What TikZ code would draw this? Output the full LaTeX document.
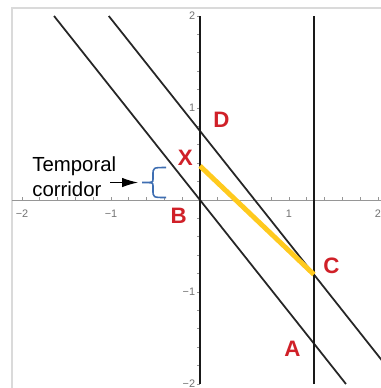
\documentclass[tikz,border=0pt]{standalone}
\usepackage{fontspec}
\setmainfont{Liberation Sans}
\usepackage{tikz}
\usetikzlibrary{arrows.meta, positioning, calc}
\definecolor{lblred}{RGB}{208,32,40}
\definecolor{corridoryellow}{RGB}{255,202,30}
\definecolor{braceblue}{RGB}{62,110,178}
\definecolor{axisgray}{RGB}{150,150,150}
\definecolor{framegray}{RGB}{218,218,218}

\begin{document}
\begin{tikzpicture}[>=Stealth, x=1.78cm, y=1.84cm,
    lbl/.style={text=lblred, font=\fontsize{12.7}{14}\selectfont\bfseries, inner sep=0pt},
    worldline/.style={draw=black!85, line width=1pt},
    wall/.style={draw=black!90, line width=1.5pt},
    ticklbl/.style={text=black!55, font=\fontsize{6.2}{7}\selectfont, inner sep=0pt}]

  \clip (-4cm,-3.76cm) rectangle (3.62cm,4cm);
  \fill[white] (-4cm,-3.76cm) rectangle (3.62cm,4cm);
  \draw[framegray, line width=0.6pt] (-3.76cm,-5cm) rectangle (5cm,3.84cm);

  \draw[axisgray, line width=0.5pt] (-3.76cm,0) -- (3.62cm,0);
  \foreach \i in {-10,...,10}
    \draw[axisgray, line width=0.4pt] (\i/5,0) -- ++(0,0.06cm);
  \foreach \i in {-10,...,10}
    \draw[axisgray, line width=0.4pt] (0,\i/5) -- ++(-0.06cm,0);
  \foreach \v/\s in {-2/−2, -1/−1, 1/1, 2/2}
    \node[ticklbl, anchor=north, yshift=-0.19cm] at (\v,0) {\s};
  \foreach \v/\s in {-2/−2, -1/−1, 1/1, 2/2}
    \node[ticklbl, anchor=east, xshift=-0.09cm] at (0,\v) {\s};

  \coordinate (b) at (0,0);
  \coordinate (d) at (0,0.75);
  \coordinate (xpt) at (0,0.37);
  \coordinate (c) at (1.28,-0.81);
  \coordinate (a) at (1.28,-1.56);
  \coordinate (otop) at (0,2);
  \coordinate (obot) at (0,-2);
  \coordinate (wtop) at (1.28,2);
  \coordinate (wbot) at (1.28,-2);
  \coordinate (ltop) at (-1.64,2);
  \coordinate (lbot) at (1.64,-2);
  \coordinate (utop) at (-1.025,2);
  \coordinate (ubot) at (2.254,-2);

  \draw[worldline] (ltop) -- (b) -- (a) -- (lbot);
  \draw[worldline] (utop) -- (d) -- (c) -- (ubot);
  \draw[wall] (obot) -- (otop);
  \draw[wall] (wbot) -- (wtop);
  \draw[corridoryellow, line width=2.8pt] (xpt) -- (c);

  \node[lbl, above right=0.06cm and 0.26cm of d] (labD) {D};
  \node[lbl, above left=0cm and 0.14cm of xpt] (labX) {X};
  \node[lbl, below left=0.16cm and 0.26cm of b] (labB) {B};
  \node[lbl, above right=0cm and 0.18cm of c] (labC) {C};
  \node[lbl, left=0.26cm of a, yshift=-0.1cm] (labA) {A};

  \coordinate (brmid) at (-0.528,0.19);
  \draw[braceblue, line width=0.9pt]
    ($(brmid)+(0.26cm,0.3cm)$) .. controls ($(brmid)+(0cm,0.3cm)$) .. ($(brmid)+(0cm,0.15cm)$)
    -- ($(brmid)+(0cm,0.07cm)$) .. controls ($(brmid)+(0cm,0cm)$) .. ($(brmid)+(-0.22cm,0cm)$)
    .. controls ($(brmid)+(0cm,0cm)$) .. ($(brmid)+(0cm,-0.07cm)$)
    -- ($(brmid)+(0cm,-0.15cm)$) .. controls ($(brmid)+(0cm,-0.3cm)$) .. ($(brmid)+(0.26cm,-0.3cm)$);
  \coordinate[left=0.22cm of brmid] (brtip);
  \coordinate[left=0.64cm of brtip] (artail);
  \draw[-{Latex[length=0.32cm,width=0.19cm]}, line width=0.6pt, shorten >=0.08cm] (artail) -- (brtip);

  \node[anchor=base west, align=left, font=\fontsize{11.6}{13.7}\selectfont, inner sep=0pt] (corr) at (-3.36cm,0.08cm) {Temporal\\corridor};
\end{tikzpicture}
\end{document}
